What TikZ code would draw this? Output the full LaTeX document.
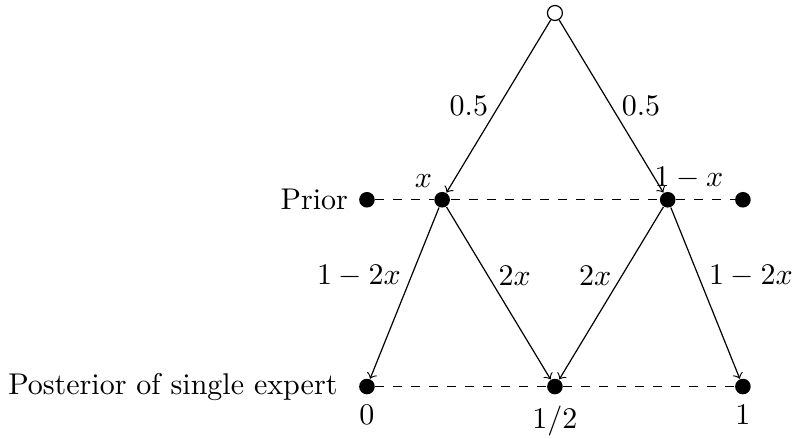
\documentclass[tikz,border=0pt]{standalone}
\usepackage{tikz}
\usetikzlibrary{positioning}

\begin{document}
\begin{tikzpicture}[
    x=62.7pt, y=62.3pt,
    dot/.style={circle, fill=black, inner sep=0pt, minimum size=5.2pt},
    origin/.style={circle, draw=black, inner sep=0pt, minimum size=5pt},
    branch/.style={->},
    level/.style={dashed}]
  \useasboundingbox (-1.952,1.0695) rectangle (2.277,-1.278);
  % root and prior row
  \node[origin] (root) at (1,1) {};
  \node[dot, label=left:Prior] (pl) at (0,0) {};
  \node[dot] (a) at (0.4,0) {};
  \node[dot] (b) at (1.6,0) {};
  \node[dot] (pr) at (2,0) {};
  \node (xa) at (0.30,0.10) {$x$};
  \node (xb) at (1.713,0.118) {$1-x$};
  % posterior row
  \node[dot, label={[label distance=3.5pt]left:Posterior of single expert},
        label=below:$0$] (q0) at (0,-1) {};
  \node[dot, label=below:$1/2$] (qh) at (1,-1) {};
  \node[dot, label=below:$1$] (q1) at (2,-1) {};
  % dashed levels
  \draw[level] (pl) -- (a);
  \draw[level] (a) -- (b);
  \draw[level] (b) -- (pr);
  \draw[level] (q0) -- (qh);
  \draw[level] (qh) -- (q1);
  % branches
  \draw[branch] (root) -- node[left] {$0.5$} (a);
  \draw[branch] (root) -- node[right] {$0.5$} (b);
  \draw[branch] (a) -- node[pos=0.4, left] {$1-2x$} (q0);
  \draw[branch] (a) -- node[pos=0.4, right] {$2x$} (qh);
  \draw[branch] (b) -- node[pos=0.4, left] {$2x$} (qh);
  \draw[branch] (b) -- node[pos=0.4, right] {$1-2x$} (q1);
\end{tikzpicture}
\end{document}
